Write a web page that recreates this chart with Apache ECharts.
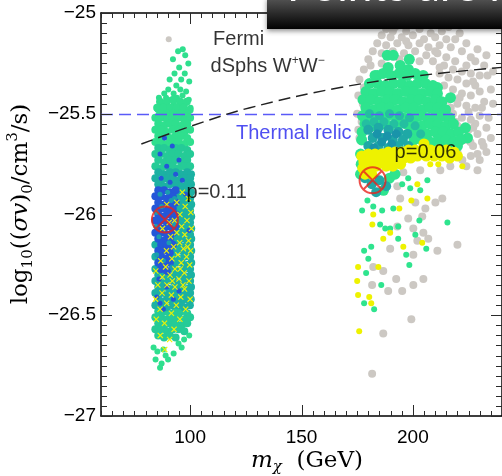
<!DOCTYPE html>
<html><head><meta charset="utf-8">
<script src="https://cdn.jsdelivr.net/npm/echarts@6/dist/echarts.min.js"></script>
<style>html,body{margin:0;padding:0;background:#fff}#chart{width:502px;height:476px}</style>
</head><body><div id="chart"></div>
<script>
// ---- axes ----
var xRange = [60, 240];
var yRange = [-27, -25];
var xMajorTicks = [100, 150, 200];
var xTickValues = [60,65,70,75,80,85,90,95,100,105,110,115,120,125,130,135,140,145,150,155,160,165,170,175,180,
  185,190,195,200,205,210,215,220,225,230,235,240];
var yMajorTicks = [-27, -26.5, -26, -25.5, -25];
var yTickValues = [-27,-26.95,-26.9,-26.85,-26.8,-26.75,-26.7,-26.65,-26.6,-26.55,-26.5,-26.45,-26.4,-26.35,-26.3,
  -26.25,-26.2,-26.15,-26.1,-26.05,-26,-25.95,-25.9,-25.85,-25.8,-25.75,-25.7,-25.65,-25.6,-25.55,-25.5,-25.45,-25.4,
  -25.35,-25.3,-25.25,-25.2,-25.15,-25.1,-25.05,-25];

// ---- left cloud (m_chi ~ 83-101 GeV) ----
var leftGrayPts = [[90.4,-25.13]];
var leftGreenSparse = [
 [94.6,-25.19],[96.7,-25.18],[97.8,-25.21],[92.3,-25.23],[99.2,-25.25],[95.1,-25.27],[93.0,-25.30],[97.6,-25.30],
 [90.8,-25.33],[96.0,-25.33],[99.6,-25.34],[93.8,-25.36],[90.2,-25.38],[95.6,-25.38],[98.2,-25.39],[88.4,-25.40],[92.6,-25.40],
 [86.0,-25.42],[89.2,-25.42],[91.4,-25.43],[94.1,-25.42],[96.6,-25.41],[99.4,-25.43],[87.6,-25.45],[90.1,-25.46],[92.7,-25.45],
 [95.2,-25.46],[97.8,-25.45],[100.2,-25.47],[85.4,-25.48],[88.6,-25.49],[91.1,-25.48],[93.6,-25.49],[96.3,-25.48],[98.8,-25.50],
 [83.6,-26.66],[85.3,-26.68],[88.0,-26.67],[94.8,-26.64],[97.3,-26.62],[99.6,-26.60],[96.2,-26.66],[84.5,-26.72],[87.2,-26.74],
 [90.1,-26.72],[86.5,-26.76],[92.6,-26.69],[89.0,-26.70]
];
var leftGreen = [
 [86.5,-25.44],[89.5,-25.44],[92.5,-25.43],[95.5,-25.44],[98.5,-25.44],[85.2,-25.47],[88.0,-25.47],[91.0,-25.47],
 [94.0,-25.47],[97.0,-25.47],[99.8,-25.48],[86.5,-25.50],[89.5,-25.50],[92.5,-25.50],[95.5,-25.50],[98.5,-25.50],
 [84.4,-25.52],[87.0,-25.52],[89.6,-25.53],[92.2,-25.52],[94.8,-25.52],[97.4,-25.53],[100.0,-25.52],
 [85.7,-25.55],[88.3,-25.56],[90.9,-25.55],[93.5,-25.55],[96.1,-25.56],[98.7,-25.55],
 [84.4,-25.58],[87.0,-25.58],[89.6,-25.59],[92.2,-25.58],[94.8,-25.58],[97.4,-25.59],[100.0,-25.58],
 [85.7,-25.61],[88.3,-25.61],[90.9,-25.62],[93.5,-25.61],[96.1,-25.61],[98.7,-25.62],
 [84.4,-25.64],[87.0,-25.64],[89.6,-25.65],[92.2,-25.64],[94.8,-25.64],[97.4,-25.65],[100.0,-25.64]
];
var leftGreen2 = [
 [85.7,-25.67],[88.3,-25.67],[90.9,-25.68],[93.5,-25.67],[96.1,-25.67],[98.7,-25.68],
 [84.4,-25.70],[87.0,-25.70],[89.6,-25.71],[92.2,-25.70],[94.8,-25.70],[97.4,-25.71],[100.0,-25.70],
 [85.7,-25.73],[88.3,-25.74],[90.9,-25.73],[93.5,-25.73],[96.1,-25.74],[98.7,-25.73],
 [84.4,-25.76],[87.0,-25.77],[89.6,-25.76],[92.2,-25.76],[94.8,-25.77],[97.4,-25.76],[100.0,-25.76],
 [85.7,-26.48],[88.3,-26.48],[90.9,-26.49],[93.5,-26.48],[96.1,-26.48],[98.7,-26.49],
 [84.4,-26.51],[87.0,-26.51],[89.6,-26.52],[92.2,-26.51],[94.8,-26.51],[97.4,-26.52],[100.0,-26.51],
 [85.7,-26.54],[88.3,-26.55],[90.9,-26.54],[93.5,-26.54],[96.1,-26.55],[98.7,-26.54],
 [84.4,-26.57],[87.0,-26.57],[89.6,-26.58],[92.2,-26.57],[94.8,-26.57],[97.4,-26.58],
 [85.7,-26.60],[88.3,-26.61],[90.9,-26.60],[93.5,-26.61]
];
var leftTeal = [
 [85.7,-25.79],[88.3,-25.80],[90.9,-25.79],[93.5,-25.79],[96.1,-25.80],[98.7,-25.79],[100.4,-25.80],
 [84.4,-25.82],[87.0,-25.83],[89.6,-25.82],[92.2,-25.82],[94.8,-25.83],[97.4,-25.82],[100.0,-25.82],
 [85.7,-25.85],[88.3,-25.86],[90.9,-25.85],[93.5,-25.85],[96.1,-25.86],[98.7,-25.85],[100.4,-25.85],
 [96.1,-25.88],[98.7,-25.88],[100.4,-25.89],[94.8,-25.91],[97.4,-25.91],[100.0,-25.92],
 [96.1,-25.94],[98.7,-25.94],[100.5,-25.95],[94.8,-25.97],[97.4,-25.97],[100.0,-25.98],
 [96.1,-26.00],[98.7,-26.00],[100.5,-26.01],[94.8,-26.03],[97.4,-26.03],[100.0,-26.04],
 [96.1,-26.06],[98.7,-26.06],[100.5,-26.07],[94.8,-26.09],[97.4,-26.09],[100.0,-26.10],
 [93.5,-26.12],[96.1,-26.12],[98.7,-26.13],[100.5,-26.12],[84.4,-26.15],[94.8,-26.15],[97.4,-26.16],[100.0,-26.15],
 [93.5,-26.18],[96.1,-26.18],[98.7,-26.19],[100.5,-26.18],[84.4,-26.21],[92.2,-26.21],[94.8,-26.22],[97.4,-26.21],[100.0,-26.21],
 [93.5,-26.24],[96.1,-26.24],[98.7,-26.25],[100.5,-26.24],[84.4,-26.27],[92.2,-26.27],[94.8,-26.28],[97.4,-26.27],[100.0,-26.27],
 [85.7,-26.30],[88.3,-26.30],[90.9,-26.31],[93.5,-26.30],[96.1,-26.30],[98.7,-26.31],[100.4,-26.30],
 [84.4,-26.33],[87.0,-26.34],[89.6,-26.33],[92.2,-26.33],[94.8,-26.34],[97.4,-26.33],[100.0,-26.33],
 [85.7,-26.36],[88.3,-26.36],[90.9,-26.37],[93.5,-26.36],[96.1,-26.36],[98.7,-26.37],[100.4,-26.36],
 [84.4,-26.39],[87.0,-26.39],[89.6,-26.40],[92.2,-26.39],[94.8,-26.39],[97.4,-26.40],[100.0,-26.39],
 [85.7,-26.42],[88.3,-26.43],[90.9,-26.42],[93.5,-26.42],[96.1,-26.43],[98.7,-26.42],[100.3,-26.42],
 [84.4,-26.45],[87.0,-26.45],[89.6,-26.46],[92.2,-26.45],[94.8,-26.45],[97.4,-26.46],[99.9,-26.45]
];
var leftBlue = [
 [85.7,-25.88],[88.3,-25.88],[90.9,-25.89],[93.5,-25.88],
 [84.4,-25.91],[87.0,-25.91],[89.6,-25.92],[92.2,-25.91],
 [85.7,-25.94],[88.3,-25.95],[90.9,-25.94],[93.5,-25.94],
 [84.4,-25.97],[87.0,-25.97],[89.6,-25.98],[92.2,-25.97],
 [85.7,-26.00],[88.3,-26.01],[90.9,-26.00],[93.5,-26.00],
 [84.4,-26.03],[87.0,-26.03],[89.6,-26.04],[92.2,-26.03],
 [85.7,-26.06],[88.3,-26.07],[90.9,-26.06],[93.5,-26.06],
 [84.4,-26.09],[87.0,-26.09],[89.6,-26.10],[92.2,-26.09],
 [85.7,-26.12],[88.3,-26.13],[90.9,-26.12],
 [87.0,-26.15],[89.6,-26.16],[92.2,-26.15],
 [85.7,-26.18],[88.3,-26.18],[90.9,-26.19],
 [87.0,-26.21],[89.6,-26.22],
 [85.7,-26.24],[88.3,-26.25],[90.9,-26.24],
 [87.0,-26.27],[89.6,-26.28]
];
var leftBlueFlecks = [
 [88.5,-25.62],[92.0,-25.66],[86.5,-25.70],[95.0,-25.73],[89.5,-25.76],[93.5,-25.80],[87.0,-25.82],[91.0,-25.84],
 [96.5,-25.83],[86.0,-26.32],[89.5,-26.36],[85.0,-26.41],[92.5,-26.42],[88.0,-26.47],[95.0,-26.38],[86.5,-26.44],
 [98.0,-25.90],[99.5,-26.08]
];
var leftTealFlecks = [
 [86.5,-25.90],[91.5,-25.93],[84.8,-25.99],[92.8,-26.05],[86.0,-26.11],[90.5,-26.14],[85.0,-26.20],[88.0,-26.23],
 [91.8,-26.26],[87.2,-25.96],[93.0,-25.92],[84.6,-26.06],[89.9,-25.89]
];
var leftYellow = [
 [96.5,-25.89],[99.2,-25.92],[94.0,-25.94],[97.8,-25.96],[100.3,-25.99],[95.4,-26.00],[93.0,-26.03],[98.6,-26.03],
 [96.2,-26.06],[100.6,-26.07],[94.0,-26.09],[97.6,-26.10],[91.2,-26.11],[99.3,-26.13],[95.3,-26.14],[92.6,-26.16],
 [97.0,-26.17],[100.2,-26.18],[89.4,-26.18],[94.5,-26.20],[98.4,-26.21],[91.8,-26.22],[86.8,-26.23],[96.0,-26.24],
 [99.8,-26.25],[89.0,-26.26],[93.2,-26.27],[84.6,-26.28],[97.4,-26.29],[91.0,-26.30],[87.5,-26.31],[95.0,-26.32],
 [99.5,-26.33],[85.5,-26.35],[89.6,-26.35],[93.2,-26.36],[97.5,-26.37],[87.4,-26.39],[91.6,-26.40],[95.8,-26.41],
 [84.5,-26.42],[100.0,-26.42],[89.5,-26.44],[93.8,-26.45],[86.5,-26.47],[98.0,-26.47],[91.6,-26.49],[84.8,-26.52],
 [95.4,-26.52],[88.5,-26.54],[92.8,-26.57],[86.6,-26.60],[90.8,-26.62],[88.6,-26.67],[89.5,-25.95],[87.6,-26.07],
 [90.6,-26.04],[95.6,-26.27],[92.0,-26.33],[98.9,-26.16],[96.8,-26.35]
];

// ---- right cloud (m_chi ~ 175-235 GeV) ----
var rightGray = [
 [188,-25.08],[192,-25.07],[197,-25.09],[203,-25.08],[208,-25.10],[213,-25.09],[186,-25.11],[190,-25.12],[195,-25.12],
 [200,-25.11],[205,-25.13],[210,-25.12],[215,-25.13],[219,-25.13],[184,-25.15],[188,-25.16],[193,-25.15],[198,-25.16],
 [203,-25.15],[207,-25.17],[212,-25.16],[217,-25.17],[222,-25.19],[182,-25.19],[186,-25.20],[191,-25.19],[196,-25.20],
 [201,-25.19],[206,-25.21],[211,-25.20],[215,-25.22],[226,-25.22],[180,-25.23],[219,-25.24],[224,-25.26],[228,-25.24],
 [209,-25.24],[214,-25.26],[218,-25.28],[222,-25.29],[226,-25.30],[230,-25.31],[212,-25.30],[216,-25.32],[220,-25.33],
 [224,-25.35],[228,-25.36],[214,-25.36],[218,-25.38],[222,-25.40],[226,-25.41],[230,-25.39],[216,-25.43],[220,-25.45],
 [224,-25.46],[228,-25.47],[232,-25.44],[218,-25.50],[222,-25.52],[226,-25.53],[230,-25.51],[220,-25.56],[225,-25.58],
 [229,-25.60],[233,-25.57],[223,-25.63],[227,-25.66],[231,-25.64],[220,-25.69],[226,-25.71],[230,-25.73],[224,-25.76],
 [233,-25.69],[229,-25.78],[176,-25.33],[178,-25.37],[175.5,-25.41],[177.5,-25.45],[175,-25.50],[177,-25.54],
 [175.5,-25.58],[178,-25.28],[181,-25.26],[176,-25.62],[233.5,-25.31],[235,-25.38],[232,-25.26],
 [184,-25.06],[199,-25.05],[207,-25.06],[216,-25.07],[221,-25.10],[224,-25.15],[229,-25.18],[233,-25.21],[236,-25.29],
 [212,-25.27],[210,-25.19],[194,-25.23],[203,-25.24],[186,-25.25],[197,-25.14],[191,-25.09],[227,-25.34],[231,-25.47],
 [234,-25.52],[228,-25.55],[236,-25.45],[235,-25.62],[221,-25.42],[225,-25.49],[217,-25.47],
 [195.7,-25.79],[203.3,-25.78],[212.3,-25.78],[216.8,-25.76],[222.2,-25.73],[229.0,-25.70],[231.7,-25.66],[225.8,-25.64],
 [220.4,-25.60],[227.1,-25.57],[219.1,-25.54],[193.0,-25.86],[194.3,-25.92],[201.1,-25.94],[205.6,-25.97],[210.1,-25.94],
 [213.2,-25.92],[204.2,-26.01],[197.9,-26.02],[193.0,-26.06],[200.2,-26.07],[204.7,-26.09],[206.9,-26.12],[202.0,-26.13],
 [220.0,-26.15],[211.0,-26.18],[182.2,-26.26],[186.7,-26.28],[204.7,-26.32],[188.9,-26.38],[195.2,-26.38],[181.7,-26.35],
 [199.3,-26.52],[186.7,-26.59],[181.7,-26.79],[192.5,-26.32],[189.8,-26.17],[200.2,-26.20],[200.2,-26.35]
];
var rightGreen = [
 [188.5,-25.21],[191.2,-25.21],[198.4,-25.23],[194.3,-25.26],[188.9,-25.27],[198.0,-25.28],[184.0,-25.31],[203.3,-25.32],
 [211.0,-25.37],[216.9,-25.42],[214.6,-25.48],[223.6,-25.57],[224.5,-25.62],
 [183,-25.31],[186.6,-25.30],[190.2,-25.31],[193.8,-25.30],[197.4,-25.31],[201,-25.30],[204.6,-25.31],
 [180.5,-25.35],[184.1,-25.35],[187.7,-25.36],[191.3,-25.35],[194.9,-25.35],[198.5,-25.36],[202.1,-25.35],[205.7,-25.35],[209,-25.36],
 [178.9,-25.39],[182.5,-25.40],[186.1,-25.39],[189.7,-25.39],[193.3,-25.40],[196.9,-25.39],[200.5,-25.39],[204.1,-25.40],[207.7,-25.39],[211,-25.40],
 [177.6,-25.43],[181.2,-25.43],[184.8,-25.44],[188.4,-25.43],[192,-25.43],[195.6,-25.44],[199.2,-25.43],[202.8,-25.43],[206.4,-25.44],[210,-25.43],[213,-25.44],
 [178.9,-25.47],[182.5,-25.48],[186.1,-25.47],[189.7,-25.47],[193.3,-25.48],[196.9,-25.47],[200.5,-25.47],[204.1,-25.48],[207.7,-25.47],[211.3,-25.47],[214.5,-25.48],
 [177.4,-25.51],[181.2,-25.51],[184.8,-25.52],[188.4,-25.51],[192,-25.51],[195.6,-25.52],[199.2,-25.51],[202.8,-25.51],[206.4,-25.52],[210,-25.51],[213.6,-25.51],[216.5,-25.52],
 [178.5,-25.55],[182.5,-25.56],[186.1,-25.55],[189.7,-25.56],[193.3,-25.55],[196.9,-25.55],[200.5,-25.55],[204.1,-25.56],[207.7,-25.55],[211.3,-25.55],[214.9,-25.56],[218.2,-25.55],
 [177.2,-25.59],[199.2,-25.59],[202.8,-25.59],[206.4,-25.60],[210,-25.59],[213.6,-25.59],[217.2,-25.60],[220.5,-25.59],
 [177.0,-25.63],[200.5,-25.63],[204.1,-25.63],[207.7,-25.64],[211.3,-25.63],[214.9,-25.63],[218.5,-25.64],[221.5,-25.63],
 [208,-25.67],[212,-25.66],[216,-25.67],[220,-25.66],[176.5,-25.70],[176.8,-25.75],
 [176.5,-25.80],[186.8,-25.88],[189.5,-25.82],[192,-25.80]
];
var rightTealLight = [
 [180.5,-25.50],[185,-25.51],[189.5,-25.50],[194,-25.51],[198.5,-25.52],[182.5,-25.54],[187,-25.54],[191.5,-25.55],
 [196,-25.55],[201,-25.56],[179,-25.55],[203.5,-25.60]
];
var rightTeal = [
 [180,-25.58],[184.5,-25.57],[189,-25.58],[193.5,-25.59],[197.5,-25.60],[182,-25.62],[186.5,-25.62],[191,-25.63],
 [195.5,-25.63],[180,-25.66],[184.5,-25.66],[189,-25.67],[193.5,-25.66],[198,-25.66],[178.5,-25.82],[181.5,-25.85],
 [185,-25.83],[188,-25.86],[183.5,-25.89]
];
var rightTealDark = [[184,-25.60],[188.5,-25.61],[186,-25.64],[190.5,-25.65],[182.5,-25.67],[192.5,-25.60]];
var rightYellow = [
 [177,-25.71],[180,-25.70],[183,-25.70],[178,-25.74],[181,-25.74],[184,-25.73],[177.5,-25.77],[180.5,-25.77],[183.5,-25.76],
 [178.5,-25.80],[181.5,-25.80],[186,-25.70],[189,-25.69],[192,-25.69],[195,-25.69],[198,-25.68],[201,-25.68],[187,-25.73],
 [190,-25.73],[193,-25.72],[196,-25.72],[199,-25.72],[202,-25.71],[188,-25.76],[191,-25.76],[194.5,-25.75],
 [204.5,-25.68],[208,-25.68],[211.5,-25.68],[215,-25.68],[218.5,-25.69],[206,-25.71],[209.5,-25.71],[213,-25.71],
 [216.5,-25.72],[220,-25.71],[205,-25.65]
];
var scatterGreen = [
 [177.2,-25.98],[182.2,-25.96],[186.2,-25.98],[191.2,-25.97],[195.2,-25.85],[197.9,-25.82],[206.5,-25.83],[198.8,-25.87],
 [203.3,-25.88],[185.3,-26.05],[187.6,-26.07],[193.4,-26.06],[202.9,-26.03],[215.5,-26.04],[201.1,-26.10],[206.0,-26.17],
 [197.0,-26.20],[198.4,-26.25],[178.1,-26.18],[181.3,-26.16],[180.0,-26.22],[179.0,-26.29],[185.8,-26.35],[178.1,-26.44],
 [182.6,-26.47],[189.8,-26.07],[193.4,-26.12],[179.6,-25.93]
];
var scatterYellow = [
 [182.2,-26.00],[181.8,-26.05],[186.7,-26.12],[189.8,-26.09],[193.9,-25.97],[199.3,-25.93],[206.5,-25.92],[202.0,-25.85],
 [204.2,-26.14],[195.7,-26.16],[175.4,-26.26],[175.0,-26.33],[175.4,-26.40],[180.4,-26.41],[181.3,-26.44],[175.9,-26.58],
 [222.2,-25.76],[211.4,-25.75],[207.8,-25.75],[184.5,-26.26]
];

// ---- reference curves and best-fit points ----
var fermiLimitM = [78.1, 100.8, 126.9, 167.4, 203.4, 240];
var fermiLimitV = [-25.65, -25.56, -25.47, -25.37, -25.31, -25.27];
var thermalRelic = -25.5;
var bestFitPts = [[88.7,-26.025],[181.9,-25.83]];
var annotations = [
 {name: 'Fermi', value: [110.3, -25.13]},
 {name: 'dSphs', value: [109.2, -25.265]},
 {name: 'Thermal relic', value: [120.6, -25.60]},
 {name: 'p=0.11', value: [98.4, -25.89]},
 {name: 'p=0.06', value: [191.8, -25.69]}
];

var COLORS = {
  gray: '#ccc8c3', green: '#2fdf8e', green2: '#25cb97', teal: '#1cb1a3', tealFleck: '#1a9db0',
  tealLight: '#24bfa0', tealR: '#1fa9a6', tealDark: '#1994aa', blue: '#2457d8', yellow: '#eef200', rightGreen: '#2ee48e'
};
var CROSS = 'path://M0,1.3L1.3,0L5,3.7L8.7,0L10,1.3L6.3,5L10,8.7L8.7,10L5,6.3L1.3,10L0,8.7L3.7,5Z';
var CIRCLE_X = 'path://M0,10A10,10,0,1,1,20,10A10,10,0,1,1,0,10ZM2.93,2.93L17.07,17.07M17.07,2.93L2.93,17.07';
var TICK_COLOR = '#2a2a2a';

function dots(data, color, size, symbol) {
  return {type: 'scatter', data: data, symbol: symbol || 'circle', symbolSize: size,
    itemStyle: {color: color, opacity: 1}, silent: true, z: 2};
}
function xTickLen(v) { return xMajorTicks.indexOf(v) >= 0 ? 11 : 5; }
function yTickLen(v) { return yMajorTicks.indexOf(v) >= 0 ? 11 : 6; }

var fermiLine = fermiLimitM.map(function (m, i) { return [m, fermiLimitV[i]]; });
var xTickMarks = xTickValues.map(function (v) { return [v, yRange[0]]; });
var yTickMarks = yTickValues.map(function (v) { return [xRange[0], v]; });

function tickRect(x, y, w, h) {
  return {type: 'rect', shape: {x: x, y: y, width: w, height: h}, style: {fill: TICK_COLOR}};
}

var chart = echarts.init(document.getElementById('chart'), null, {renderer: 'canvas'});

var frameLine = {show: true, onZero: false, lineStyle: {color: '#000', width: 1.5}};
var option = {
  animation: false,
  backgroundColor: '#fff',
  grid: {left: 101, right: 0, top: 13, bottom: 60, containLabel: false},
  xAxis: [
    {type: 'value', min: xRange[0], max: xRange[1], interval: 5, position: 'bottom',
     axisLine: frameLine, axisTick: {show: false}, splitLine: {show: false},
     axisLabel: {show: true, customValues: xMajorTicks, color: '#000', fontSize: 19,
       fontFamily: 'Liberation Sans', margin: 12}},
    {type: 'value', min: xRange[0], max: xRange[1], position: 'top',
     axisLine: frameLine, axisTick: {show: false}, axisLabel: {show: false}, splitLine: {show: false}}
  ],
  yAxis: [
    {type: 'value', min: yRange[0], max: yRange[1], interval: 0.5, position: 'left',
     axisLine: frameLine, axisTick: {show: false}, splitLine: {show: false},
     axisLabel: {show: true, color: '#000', fontSize: 19, fontFamily: 'Liberation Sans', margin: 5,
       formatter: function (v) { return (v < 0 ? '\u2212' : '') + Math.abs(v); }}},
    {type: 'value', min: yRange[0], max: yRange[1], interval: 0.5, position: 'right',
     axisLine: frameLine, axisTick: {show: false}, axisLabel: {show: false}, splitLine: {show: false}}
  ],
  series: [
    dots(rightGray, COLORS.gray, 8),
    dots(leftGrayPts, COLORS.gray, 6),
    dots(rightGreen, COLORS.rightGreen, 11),
    dots(rightTealLight, COLORS.tealLight, 9),
    dots(rightTeal, COLORS.tealR, 10),
    dots(rightTealDark, COLORS.tealDark, 9),
    dots(rightYellow, COLORS.yellow, 11),
    dots(scatterGreen, COLORS.rightGreen, 6),
    dots(scatterYellow, COLORS.yellow, 6),
    dots(leftGreenSparse, COLORS.green, 6),
    dots(leftGreen, COLORS.green, 8),
    dots(leftGreen2, COLORS.green2, 8),
    dots(leftTeal, COLORS.teal, 8),
    dots(leftBlue, COLORS.blue, 8),
    dots(leftTealFlecks, COLORS.tealFleck, 5),
    dots(leftBlueFlecks, COLORS.blue, 5),
    dots(leftYellow, COLORS.yellow, 6, CROSS),
    {
      type: 'line', data: fermiLine, smooth: 0.4, symbol: 'none', silent: true, z: 5,
      lineStyle: {color: '#222', width: 1.4, type: [12, 6]},
      markLine: {
        silent: true, symbol: 'none', label: {show: false},
        lineStyle: {color: '#5a5af8', width: 1.4, type: [12, 6]},
        data: [{yAxis: thermalRelic}]
      }
    },
    {
      type: 'scatter', data: bestFitPts, symbol: CIRCLE_X, symbolSize: 26, silent: true, z: 6,
      itemStyle: {color: 'rgba(0,0,0,0)', borderColor: '#e8221c', borderWidth: 2}
    },
    {
      type: 'scatter', data: annotations, symbolSize: 0, silent: true, z: 7,
      label: {
        show: true, position: 'right', distance: 0, color: '#000', fontSize: 20,
        fontFamily: 'Liberation Sans', align: 'left', verticalAlign: 'middle',
        formatter: function (p) {
          if (p.name === 'dSphs') return '{n|dSphs W}{s|+}{n|W}{s|\u2212}';
          if (p.name === 'Thermal relic') return '{b|Thermal relic}';
          return '{n|' + p.name + '}';
        },
        rich: {
          n: {fontFamily: 'Liberation Sans', fontSize: 20, color: '#000', lineHeight: 24},
          s: {fontFamily: 'Liberation Sans', fontSize: 12, color: '#000', verticalAlign: 'top', lineHeight: 24},
          b: {fontFamily: 'Liberation Sans', fontSize: 20, color: '#2323ee', lineHeight: 24}
        }
      }
    },
    {
      // inward ticks on the bottom and top frame
      type: 'custom', coordinateSystem: 'cartesian2d', data: xTickMarks, silent: true, z: 8, clip: false,
      renderItem: function (params, api) {
        var v = api.value(0), len = xTickLen(v);
        var b = api.coord([v, yRange[0]]), t = api.coord([v, yRange[1]]);
        var x = Math.round(b[0]);
        return {type: 'group', children: [tickRect(x, b[1] - len, 1, len), tickRect(x, t[1], 1, len)]};
      }
    },
    {
      // inward ticks on the left and right frame
      type: 'custom', coordinateSystem: 'cartesian2d', data: yTickMarks, silent: true, z: 8, clip: false,
      renderItem: function (params, api) {
        var v = api.value(1), len = yTickLen(v);
        var l = api.coord([xRange[0], v]), r = api.coord([xRange[1], v]);
        var y = Math.round(l[1]);
        return {type: 'group', children: [tickRect(l[0], y, len, 1), tickRect(r[0] - len, y, len, 1)]};
      }
    }
  ],
  graphic: [
    {
      type: 'text', x: 307, y: 461, z: 50,
      style: {
        text: '{i|m}{sub|χ}{r|  (GeV)}', align: 'center', verticalAlign: 'middle', fill: '#000',
        rich: {
          i: {fontFamily: 'DejaVu Serif', fontStyle: 'italic', fontSize: 23, lineHeight: 28},
          sub: {fontFamily: 'DejaVu Serif', fontStyle: 'italic', fontSize: 15, verticalAlign: 'bottom', lineHeight: 28},
          r: {fontFamily: 'DejaVu Serif', fontSize: 23, lineHeight: 28}
        }
      }
    },
    {
      type: 'text', x: 21, y: 204, rotation: Math.PI / 2, z: 50,
      style: {
        text: '{r|log}{sub|10}{r|((}{i|σv}{r|)}{sub|0}{r|/cm}{sup|3}{r|/s)}',
        align: 'center', verticalAlign: 'middle', fill: '#000',
        rich: {
          r: {fontFamily: 'DejaVu Serif', fontSize: 23, lineHeight: 30},
          i: {fontFamily: 'DejaVu Serif', fontStyle: 'italic', fontSize: 23, lineHeight: 30},
          sub: {fontFamily: 'DejaVu Serif', fontSize: 15, verticalAlign: 'bottom', lineHeight: 30},
          sup: {fontFamily: 'DejaVu Serif', fontSize: 15, verticalAlign: 'top', lineHeight: 30}
        }
      }
    },
    {
      type: 'rect', left: 267, top: -2, z: 100,
      shape: {width: 240, height: 31},
      style: {
        fill: new echarts.graphic.LinearGradient(0, 0, 0, 1, [
          {offset: 0, color: '#555555'}, {offset: 0.55, color: '#262626'}, {offset: 1, color: '#020202'}
        ]),
        shadowBlur: 5, shadowColor: 'rgba(0,0,0,0.45)', shadowOffsetY: 2
      }
    },
    {
      type: 'text', left: 287, top: -35, z: 101,
      style: {text: 'Points are k', fill: '#ffffff', font: '44px Lato'}
    }
  ]
};
chart.setOption(option);
</script></body></html>
